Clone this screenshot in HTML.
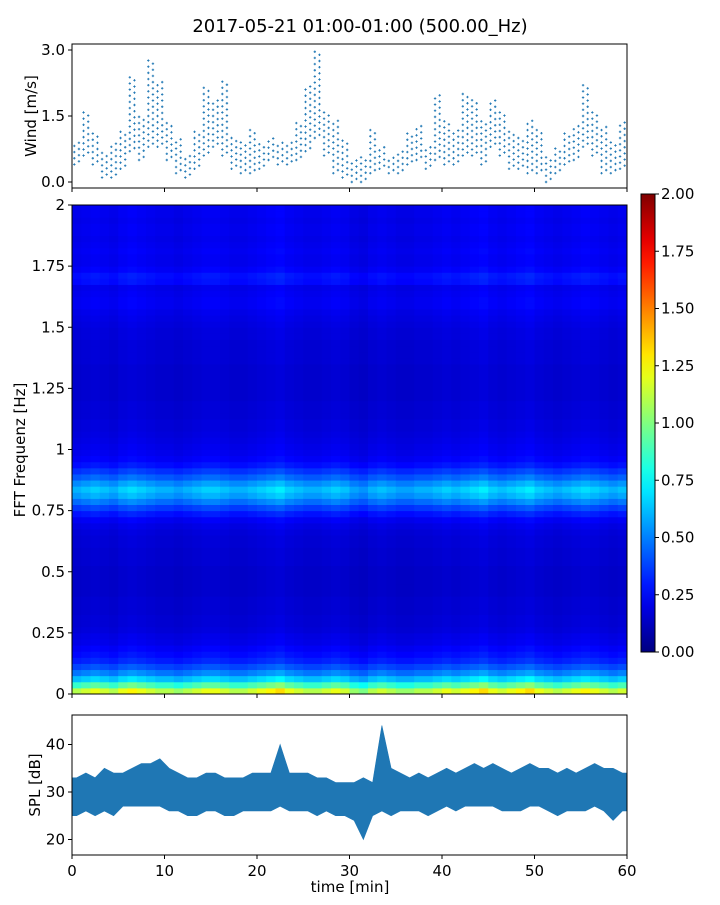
<!DOCTYPE html>
<html><head><meta charset="utf-8"><style>
body{margin:0;background:#fff;width:720px;height:900px;overflow:hidden}
svg{font-family:"DejaVu Sans","Liberation Sans",sans-serif}
</style></head><body>
<svg id="c" width="720" height="900" xmlns="http://www.w3.org/2000/svg"></svg>
<script>
const windMin=[0.4,0.6,0.4,0.1,0.1,0.3,0.7,0.5,0.8,0.8,0.5,0.2,0.1,0.3,0.6,0.8,0.6,0.3,0.2,0.2,0.3,0.5,0.4,0.4,0.5,0.7,1.0,0.6,0.2,0.1,0.0,0.0,0.2,0.3,0.2,0.2,0.4,0.5,0.3,0.5,0.4,0.4,0.6,0.6,0.4,0.8,0.6,0.3,0.3,0.2,0.2,0.0,0.2,0.4,0.5,0.8,0.6,0.2,0.2,0.3];
const windMax=[0.9,1.6,1.1,0.7,0.9,1.2,2.4,1.5,2.8,2.3,1.4,1.0,0.6,1.2,2.2,1.9,2.3,1.0,0.9,1.2,0.9,1.0,0.9,0.9,1.4,2.2,3.0,1.6,1.4,1.0,0.5,0.6,1.2,0.8,0.6,0.7,1.1,1.3,0.8,2.0,1.4,1.2,2.0,1.9,1.4,1.9,1.6,1.2,1.0,1.4,1.2,0.6,0.8,1.1,1.3,2.2,1.6,1.3,0.9,1.4];
const freqProfile=[1.1,0.85,0.62,0.48,0.38,0.3,0.26,0.23,0.2,0.19,0.17,0.16,0.16,0.15,0.15,0.15,0.14,0.14,0.14,0.14,0.14,0.15,0.15,0.15,0.16,0.16,0.17,0.19,0.22,0.28,0.36,0.46,0.55,0.6,0.52,0.42,0.34,0.27,0.23,0.21,0.2,0.19,0.18,0.17,0.17,0.16,0.16,0.16,0.15,0.15,0.15,0.15,0.15,0.15,0.16,0.16,0.16,0.16,0.17,0.17,0.18,0.19,0.2,0.22,0.22,0.21,0.2,0.26,0.27,0.23,0.21,0.21,0.22,0.21,0.2,0.21,0.21,0.2,0.21,0.21];
const timeMod=[1.0,1.05,1.1,1.05,1.0,1.1,1.15,1.1,1.05,1.0,1.0,0.95,1.0,1.05,1.1,1.1,1.05,1.0,1.0,1.05,1.1,1.15,1.2,1.1,1.05,1.0,1.0,1.05,1.1,1.05,0.95,0.9,1.0,1.05,1.0,0.95,0.95,1.0,1.0,1.05,1.1,1.05,1.1,1.15,1.2,1.1,1.05,1.1,1.15,1.2,1.1,1.05,1.0,1.05,1.1,1.15,1.1,1.05,1.0,1.05];
const splHi=[33,34,33,35,34,34,35,36,36,37,35,34,33,33,34,34,33,33,33,34,34,34,40,34,34,34,33,33,32,32,32,33,32,44,35,34,33,34,33,34,35,34,35,36,35,36,35,34,35,36,35,35,34,35,34,35,36,35,35,34];
const splLo=[25,26,25,26,25,27,27,27,27,27,26,26,25,25,26,26,25,25,26,26,26,26,27,26,26,26,25,26,25,25,24,20,25,26,25,26,26,26,25,26,27,26,27,27,27,27,26,26,26,27,27,26,25,26,26,26,27,26,24,26];
const windTicks=[0,1.5,3];
const freqTicks=[0,0.25,0.5,0.75,1,1.25,1.5,1.75,2];
const freqLabels=["0","0.25","0.5","0.75","1","1.25","1.5","1.75","2"];
const cbTicks=[0,0.25,0.5,0.75,1,1.25,1.5,1.75,2];
const splTicks=[20,30,40];
const timeTicks=[0,10,20,30,40,50,60];

const S=document.getElementById('c');const NS='http://www.w3.org/2000/svg';
function el(t,a,p){const e=document.createElementNS(NS,t);for(const k in a)e.setAttribute(k,a[k]);(p||S).appendChild(e);return e;}
const X0=72,X1=627;
const xs=t=>X0+(X1-X0)*t/60;
const yw=v=>182-v*44;
const yf=f=>694-f*244.5;
const ys=d=>792-(d-30)*4.75;
const yc=v=>652-v*229;
function jet(x){x=Math.max(0,Math.min(1,x));const c=v=>Math.round(255*Math.max(0,Math.min(1,v)));return `rgb(${c(1.5-Math.abs(4*x-3))},${c(1.5-Math.abs(4*x-2))},${c(1.5-Math.abs(4*x-1))})`;}
function txt(x,y,s,anchor,size,name){const t=el('text',{x:x,y:y,'text-anchor':anchor,'font-size':size,fill:'#000'});t.textContent=s;return t;}

txt(360,32,"2017-05-21 01:00-01:00 (500.00_Hz)","middle",18,"chart-title");

const gw=el('g',{});
for(let i=0;i<60;i++){for(let k=0;k<2;k++){const t=i+k/2+0.25;const off=k*0.07;for(let v=windMin[i]+off;v<=windMax[i]+1e-6;v+=0.14){const x=xs(t),y=yw(v);const m=el('path',{d:`M${x-1.2},${y}h2.4M${x},${y-1.2}v2.4`,stroke:'#1f77b4','stroke-width':0.9},gw);}}}
const fw=el('rect',{x:X0,y:44,width:X1-X0,height:144,fill:'none',stroke:'#000','stroke-width':1});
windTicks.forEach(v=>{el('line',{x1:X0-4,x2:X0,y1:yw(v),y2:yw(v),stroke:'#000'});txt(X0-7,yw(v)+5,v.toFixed(1),"end",15,"wind-tick-label");});
timeTicks.forEach(t=>el('line',{x1:xs(t),x2:xs(t),y1:188,y2:192,stroke:'#000'}));
const wl=txt(36,116,"Wind [m/s]","middle",15,"wind-y-axis-title");wl.setAttribute('transform','rotate(-90 36 116)');

const gs=el('g',{});
const nf=freqProfile.length,df=2/nf;
for(let t=0;t<60;t++)for(let f=0;f<nf;f++){const v=freqProfile[f]*timeMod[t];const r=el('rect',{x:xs(t),y:yf((f+1)*df),width:xs(t+1)-xs(t)+0.5,height:yf(f*df)-yf((f+1)*df)+0.5,fill:jet(v/2)},gs);}
const fs=el('rect',{x:X0,y:205,width:X1-X0,height:489,fill:'none',stroke:'#000'});
freqTicks.forEach((f,i)=>{el('line',{x1:X0-4,x2:X0,y1:yf(f),y2:yf(f),stroke:'#000'});txt(X0-7,yf(f)+5,freqLabels[i],"end",15,"freq-tick-label");});
timeTicks.forEach(t=>el('line',{x1:xs(t),x2:xs(t),y1:694,y2:698,stroke:'#000'}));
const fl=txt(25,450,"FFT Frequenz [Hz]","middle",15,"freq-y-axis-title");fl.setAttribute('transform','rotate(-90 25 450)');

const defs=el('defs',{});const lg=el('linearGradient',{id:'jg',x1:0,y1:1,x2:0,y2:0},defs);
for(let i=0;i<=20;i++)el('stop',{offset:i/20,'stop-color':jet(i/20)},lg);
const cb=el('rect',{x:641,y:194,width:14,height:458,fill:'url(#jg)',stroke:'#000'});
cbTicks.forEach(v=>{el('line',{x1:655,x2:659,y1:yc(v),y2:yc(v),stroke:'#000'});txt(661,yc(v)+5,v.toFixed(2),"start",15,"colorbar-tick-label");});

let d='';for(let i=0;i<60;i++)d+=(i?'L':'M')+xs(i+0.5)+','+ys(splHi[i]);d+='L'+xs(60)+','+ys(splHi[59]);
d+='L'+xs(60)+','+ys(splLo[59]);
for(let i=59;i>=0;i--)d+='L'+xs(i+0.5)+','+ys(splLo[i]);d+='L'+xs(0)+','+ys(splLo[0])+'L'+xs(0)+','+ys(splHi[0])+'Z';
const sp=el('path',{d:d,fill:'#1f77b4',stroke:'#1f77b4','stroke-width':0.6});
const fb=el('rect',{x:X0,y:715,width:X1-X0,height:140,fill:'none',stroke:'#000'});
splTicks.forEach(v=>{el('line',{x1:X0-4,x2:X0,y1:ys(v),y2:ys(v),stroke:'#000'});txt(X0-7,ys(v)+5,String(v),"end",15,"spl-tick-label");});
timeTicks.forEach(t=>{el('line',{x1:xs(t),x2:xs(t),y1:855,y2:859,stroke:'#000'});txt(xs(t),876,String(t),"middle",15,"time-tick-label");});
txt(350,892,"time [min]","middle",15,"time-x-axis-title");
const sl=txt(40,785,"SPL [dB]","middle",15,"spl-y-axis-title");sl.setAttribute('transform','rotate(-90 40 785)');
</script>
</body></html>
